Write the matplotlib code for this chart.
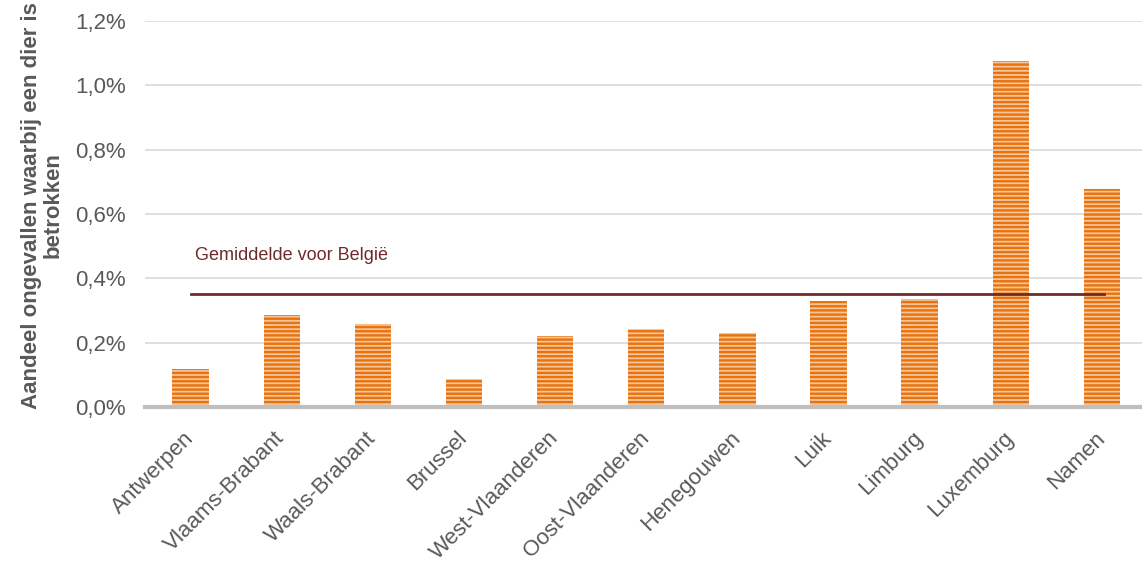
import matplotlib.pyplot as plt
from matplotlib.ticker import FuncFormatter

provincies = ["Antwerpen", "Vlaams-Brabant", "Waals-Brabant", "Brussel",
              "West-Vlaanderen", "Oost-Vlaanderen", "Henegouwen", "Luik",
              "Limburg", "Luxemburg", "Namen"]
aandeel = [0.118, 0.286, 0.258, 0.087, 0.221, 0.242, 0.230, 0.330, 0.336, 1.076, 0.678]
gemiddelde = 0.351
yticks = [0.0, 0.2, 0.4, 0.6, 0.8, 1.0, 1.2]

plt.rcParams["font.family"] = ["Liberation Sans", "DejaVu Sans"]
plt.rcParams["hatch.linewidth"] = 1.7

fig = plt.figure(figsize=(11.42, 5.65), dpi=100)
ax = fig.add_axes([0.127, 0.2796, 0.873, 0.6832])

x = list(range(len(provincies)))
ax.bar(x, aandeel, width=0.4, color="#F8C49A", edgecolor="#E8720C",
       hatch="----", linewidth=0, zorder=3)

# provincial average across the chart
ax.plot([x[0], x[-1] + 0.02], [gemiddelde, gemiddelde], color="#6E2B2B", lw=2, zorder=4)
ax.text(x[0] + 0.05, gemiddelde + 0.12, "Gemiddelde voor België",
        color="#6E2B2B", fontsize=13, va="center", ha="left")

ax.set_xlim(-0.5, 10.44)
ax.set_ylim(0, 1.2)
ax.set_yticks(yticks)
ax.yaxis.set_major_formatter(FuncFormatter(lambda v, p: f"{v:.1f}%".replace(".", ",")))
ax.grid(axis="y", color="#D9D9D9", lw=1.2, zorder=0)
ax.set_axisbelow(True)

for s in ["top", "right", "left"]:
    ax.spines[s].set_visible(False)
ax.spines["bottom"].set_color("#BFBFBF")
ax.spines["bottom"].set_linewidth(3)
ax.spines["bottom"].set_zorder(5)

# rotated category labels ending just under each bar
ax.set_xticks(x)
ax.set_xticklabels([])
ax.tick_params(axis="x", length=0)
for i, naam in zip(x, provincies):
    ax.annotate(naam, xy=(i, 0), xycoords=("data", "axes fraction"),
                xytext=(0, -20), textcoords="offset points",
                rotation=45, ha="right", va="center", rotation_mode="anchor",
                fontsize=16, color="#595959", annotation_clip=False)

ax.tick_params(axis="y", length=0, pad=14, labelsize=16, labelcolor="#595959")

ax.set_ylabel("Aandeel ongevallen waarbij een dier is\nbetrokken", fontsize=16,
              fontweight="bold", color="#595959", linespacing=1.0)
ax.yaxis.set_label_coords(-0.082, 0.523)

fig.savefig("out.png", dpi=100)
